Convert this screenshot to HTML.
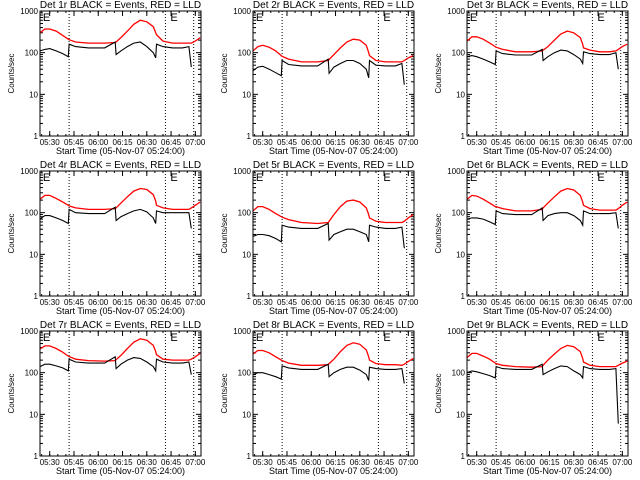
<!DOCTYPE html>
<html><head><meta charset="utf-8"><style>
html,body{margin:0;padding:0;background:#fff;}
svg{display:block;font-family:"Liberation Sans",sans-serif;}
</style></head><body>
<svg id="chart" width="640" height="480" viewBox="0 0 640 480" xmlns="http://www.w3.org/2000/svg">
<rect width="640" height="480" fill="#fff"/>
</svg>
<script>
// shared time samples (minutes after 05:24)
const times = [0,3,6,10,14,17.5,18,22,30,40,46.5,47,50,54,58,62,66,70,71.5,72,76,82,88,92,93.5,96,99];
const tickLabels = ["05:30","05:45","06:00","06:15","06:30","06:45","07:00"];
const tickMinutes = [6,21,36,51,66,81,96];
const yTickValues = [1,10,100,1000];
const yTickLabels = ["1","10","100","1000"];
const dottedMinutes = [18,77.5,95];
const eMarkMinutes = [1.8,80.6];
const detNames = ["1r","2r","3r","4r","5r","6r","7r","8r","9r"];
const red1=[300,370,370,330,260,210,205,180,170,170,175,180,230,330,480,600,550,420,300,270,190,170,170,170,170,190,230];
const blk1=[110,120,125,110,95,80,160,140,130,130,180,90,110,140,170,180,140,100,75,160,140,130,130,140,45,null,null];
const red2=[110,140,150,135,110,85,82,70,60,60,65,68,90,130,180,210,200,150,100,85,65,60,60,60,65,75,85];
const blk2=[37,45,47,40,33,28,65,52,48,48,70,32,45,55,65,65,55,40,25,65,50,48,48,55,17,null,null];
const red3=[190,240,240,210,170,140,135,120,105,105,110,115,140,200,280,330,300,230,160,130,115,105,105,110,120,140,160];
const blk3=[80,85,80,70,60,52,110,95,88,88,120,65,80,100,115,110,90,70,55,105,95,90,90,100,40,null,null];
const red4=[210,260,260,220,180,150,145,130,120,120,125,130,170,240,330,380,360,270,190,150,130,120,120,120,130,150,180];
const blk4=[70,85,85,75,65,55,120,100,95,95,135,65,80,95,110,120,105,75,55,110,100,100,100,100,42,null,null];
const red5=[110,140,140,120,95,80,78,68,58,55,58,62,90,140,190,200,180,130,90,75,62,58,58,58,62,75,90];
const blk5=[27,30,30,28,24,20,50,45,42,42,55,22,30,35,40,40,35,30,20,50,45,42,42,45,14,null,null];
const red6=[210,260,250,210,170,140,140,125,110,110,120,130,170,240,330,380,350,260,180,150,125,115,115,115,125,150,180];
const blk6=[70,75,75,70,60,52,110,95,90,90,130,65,85,95,100,100,85,65,50,110,95,95,95,100,42,null,null];
const red7=[370,440,440,380,310,250,245,210,195,190,195,205,260,380,540,650,600,450,320,270,210,200,200,200,210,240,290];
const blk7=[140,160,160,145,130,110,210,180,170,170,240,125,160,200,230,220,180,140,110,210,180,170,170,180,90,null,null];
const red8=[280,340,340,300,240,200,195,170,150,150,155,165,210,320,450,520,480,350,240,200,165,155,155,150,160,185,220];
const blk8=[90,100,100,90,80,70,145,130,120,120,160,80,100,120,135,135,115,90,65,135,125,120,120,125,55,null,null];
const red9=[230,290,290,250,210,170,165,150,140,135,140,150,200,280,380,450,420,320,220,180,150,140,140,140,150,170,190];
const blk9=[100,110,105,95,85,75,140,125,120,120,160,90,105,125,145,140,110,90,75,140,125,120,120,125,6,null,null];
const redSeries=[red1,red2,red3,red4,red5,red6,red7,red8,red9];
const blkSeries=[blk1,blk2,blk3,blk4,blk5,blk6,blk7,blk8,blk9];

const NS="http://www.w3.org/2000/svg";
const svg=document.getElementById('chart');
function mk(tag,attrs,parent){const e=document.createElementNS(NS,tag);for(const k in attrs)e.setAttribute(k,attrs[k]);parent.appendChild(e);return e;}
const colLeft=[40,253,467], rowTop=[11,171,331], W=161, H=125, TMAX=99.5;

for(let p=0;p<9;p++){
  const L=colLeft[p%3], T=rowTop[Math.floor(p/3)];
  const xs=m=>L+m/TMAX*W;
  const ys=v=>T+H-Math.log10(v)/3*H;
  const g=mk('g',{},svg);
  
  
  const t=mk('text',{x:L+W/2,y:T-3,'text-anchor':'middle','font-size':'10'},g);
  t.textContent='Det '+detNames[p]+' BLACK = Events, RED = LLD';
  
  
  yTickValues.forEach((v,i)=>{
    const y=ys(v);
    mk('line',{x1:L,x2:L+5,y1:y,y2:y,stroke:'#000'},g);
    mk('line',{x1:L+W-5,x2:L+W,y1:y,y2:y,stroke:'#000'},g);
    const tl=mk('text',{x:L-2,y:y+3,'text-anchor':'end','font-size':'8'},g);
    tl.textContent=yTickLabels[i];
    
    
    if(i<3){for(let k=2;k<10;k++){const yy=ys(v*k);
      mk('line',{x1:L,x2:L+3,y1:yy,y2:yy,stroke:'#000'},g);
      mk('line',{x1:L+W-3,x2:L+W,y1:yy,y2:yy,stroke:'#000'},g);}}
  });
  const yt=mk('text',{x:0,y:0,'text-anchor':'middle','font-size':'8',transform:'translate('+(L-26)+','+(T+H/2)+') rotate(-90)'},g);
  yt.textContent='Counts/sec';
  
  
  for(let m=1;m<TMAX;m+=5){const x=xs(m);
    mk('line',{x1:x,x2:x,y1:T+H,y2:T+H-2,stroke:'#000'},g);
    mk('line',{x1:x,x2:x,y1:T,y2:T+2,stroke:'#000'},g);}
  tickMinutes.forEach((m,i)=>{
    const x=xs(m);
    mk('line',{x1:x,x2:x,y1:T+H,y2:T+H-5,stroke:'#000'},g);
    mk('line',{x1:x,x2:x,y1:T,y2:T+5,stroke:'#000'},g);
    const tl=mk('text',{x:x,y:T+H+9,'text-anchor':'middle','font-size':'8'},g);
    tl.textContent=tickLabels[i];
    
    
  });
  const xt=mk('text',{x:L+W/2,y:T+H+18,'text-anchor':'middle','font-size':'9'},g);
  xt.textContent='Start Time (05-Nov-07 05:24:00)';
  
  
  dottedMinutes.forEach(m=>{const x=xs(m);
    const dl=mk('line',{x1:x,x2:x,y1:T,y2:T+H,stroke:'#000','stroke-dasharray':'1,2'},g);
    
    });
  eMarkMinutes.forEach(m=>{
    const e=mk('text',{x:xs(m),y:T+10,'font-size':'11'},g);
    e.textContent='E';
    
    });
  const path=arr=>{let d='';arr.forEach((v,i)=>{if(v==null)return;d+=(d?'L':'M')+xs(times[i]).toFixed(1)+','+ys(v).toFixed(1);});return d;};
  const rl=mk('path',{d:path(redSeries[p]),fill:'none',stroke:'#ff0000','stroke-width':'1.3'},g);
  
  
  const bl=mk('path',{d:path(blkSeries[p]),fill:'none',stroke:'#000','stroke-width':'1.1'},g);
  
  
  const fr=mk('rect',{x:L,y:T,width:W,height:H,fill:'none',stroke:'#000'},g);
  
  
}
</script>
</body></html>
